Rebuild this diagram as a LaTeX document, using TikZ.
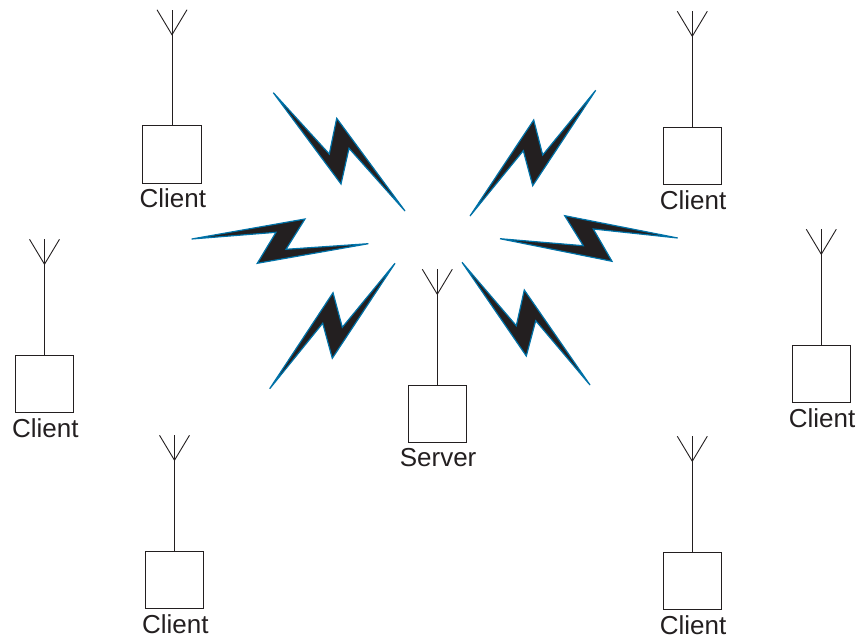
\documentclass[tikz,border=0pt]{standalone}
\usepackage{fontspec}
\setmainfont{Liberation Sans}
\usetikzlibrary{positioning}
\definecolor{inkdark}{HTML}{231F20}
\definecolor{boltblue}{HTML}{0072A8}
\tikzset{
  stationbox/.style={draw=inkdark, line width=0.9pt, minimum width=58.5pt, minimum height=57.5pt, inner sep=0pt, outer sep=0pt},
  stationtext/.style={text=inkdark, font=\fontsize{26}{26}\selectfont, inner sep=0pt, outer sep=0pt, xshift=0.8pt},
  antenna/.style={draw=inkdark, line width=0.9pt},
  bolt/.style={draw=boltblue, fill=inkdark, line width=1.2pt, line join=miter, miter limit=3}
}

\begin{document}
\begin{tikzpicture}[x=1pt, y=-1pt]
  \useasboundingbox (0,0) rectangle (858,637);

  % server
  \node [stationbox] (server) at (437.3,414) {};
  \node [stationtext, below=5.5pt of server] (servertext) {Server};
  \coordinate [above=116pt of server] (sm);
  \coordinate [below=25pt of sm] (sj);
  \coordinate [left=15pt of sm] (sl);
  \coordinate [right=15pt of sm] (sr);
  \draw [antenna] (server) -- (sm);
  \draw [antenna] (sl) -- (sj) -- (sr);

  % clients
  \node [stationbox] (c1) at (172,154.5) {};
  \node [stationtext, below=5.5pt of c1] (t1) {Client};
  \coordinate [above=116pt of c1] (m1);
  \coordinate [below=25pt of m1] (j1);
  \coordinate [left=15pt of m1] (l1);
  \coordinate [right=15pt of m1] (r1);
  \draw [antenna] (c1) -- (m1);
  \draw [antenna] (l1) -- (j1) -- (r1);

  \node [stationbox] (c2) at (692.3,156) {};
  \node [stationtext, below=5.5pt of c2] (t2) {Client};
  \coordinate [above=116pt of c2] (m2);
  \coordinate [below=25pt of m2] (j2);
  \coordinate [left=15pt of m2] (l2);
  \coordinate [right=15pt of m2] (r2);
  \draw [antenna] (c2) -- (m2);
  \draw [antenna] (l2) -- (j2) -- (r2);

  \node [stationbox] (c3) at (821.3,374) {};
  \node [stationtext, below=5.5pt of c3] (t3) {Client};
  \coordinate [above=116pt of c3] (m3);
  \coordinate [below=25pt of m3] (j3);
  \coordinate [left=15pt of m3] (l3);
  \coordinate [right=15pt of m3] (r3);
  \draw [antenna] (c3) -- (m3);
  \draw [antenna] (l3) -- (j3) -- (r3);

  \node [stationbox] (c4) at (692.3,581) {};
  \node [stationtext, below=5.5pt of c4] (t4) {Client};
  \coordinate [above=116pt of c4] (m4);
  \coordinate [below=25pt of m4] (j4);
  \coordinate [left=15pt of m4] (l4);
  \coordinate [right=15pt of m4] (r4);
  \draw [antenna] (c4) -- (m4);
  \draw [antenna] (l4) -- (j4) -- (r4);

  \node [stationbox] (c5) at (174.5,580) {};
  \node [stationtext, below=5.5pt of c5] (t5) {Client};
  \coordinate [above=116pt of c5] (m5);
  \coordinate [below=25pt of m5] (j5);
  \coordinate [left=15pt of m5] (l5);
  \coordinate [right=15pt of m5] (r5);
  \draw [antenna] (c5) -- (m5);
  \draw [antenna] (l5) -- (j5) -- (r5);

  \node [stationbox] (c6) at (44.5,384) {};
  \node [stationtext, below=5.5pt of c6] (t6) {Client};
  \coordinate [above=116pt of c6] (m6);
  \coordinate [below=25pt of m6] (j6);
  \coordinate [left=15pt of m6] (l6);
  \coordinate [right=15pt of m6] (r6);
  \draw [antenna] (c6) -- (m6);
  \draw [antenna] (l6) -- (j6) -- (r6);

  % lightning bolts
  \draw [bolt] (273.3,92.7) -- (329.3,154) -- (336.7,118.3) -- (405,211) -- (349,148.3) -- (341,184) -- cycle;
  \draw [bolt] (191.7,239) -- (305,219) -- (286,249.3) -- (368.3,243.7) -- (257.3,263.3) -- (276,232.3) -- cycle;
  \draw [bolt] (395,263.3) -- (342.3,327.3) -- (333,292.7) -- (269.7,388.7) -- (322.7,323.3) -- (332.3,358.3) -- cycle;
  \draw [bolt] (595.7,90.3) -- (542.7,155) -- (533.7,120) -- (470,216) -- (523.3,150.7) -- (532.7,185.7) -- cycle;
  \draw [bolt] (500,238.7) -- (583.3,245.7) -- (564.7,215.7) -- (677.7,238) -- (593.3,229) -- (612,261.3) -- cycle;
  \draw [bolt] (462,262.3) -- (516.3,325.7) -- (524.3,290) -- (590,385) -- (535.7,320.7) -- (526.3,356) -- cycle;
\end{tikzpicture}
\end{document}
